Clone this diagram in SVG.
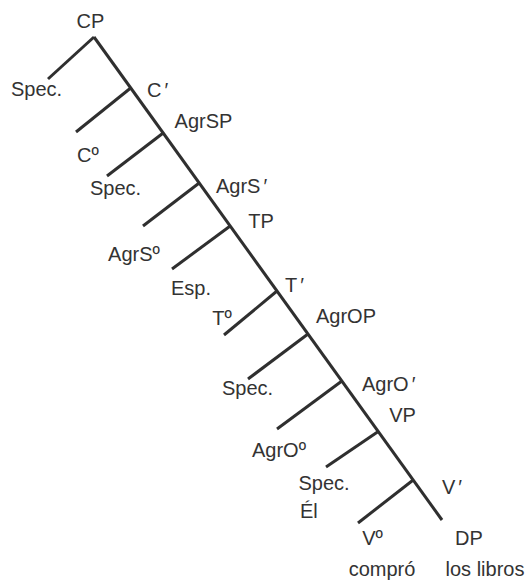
<svg xmlns="http://www.w3.org/2000/svg" width="530" height="582" viewBox="0 0 530 582">
<style>
.t{font-family:"Liberation Sans",Arial,sans-serif;font-size:20px;fill:#333}
.m{text-anchor:middle}
.e{stroke:#2f2f2f;stroke-width:3;fill:none}
</style>
<rect width="530" height="582" fill="#fff"/>
<g id="connectors">
<line class="e" x1="94" y1="37" x2="442" y2="520"/>
<line class="e" x1="94" y1="37" x2="48" y2="79"/>
<line class="e" x1="130.7" y1="88" x2="76" y2="132"/>
<line class="e" x1="163.2" y1="133" x2="107" y2="176"/>
<line class="e" x1="199.2" y1="183" x2="143" y2="226"/>
<line class="e" x1="230.2" y1="226" x2="172" y2="269"/>
<line class="e" x1="277" y1="291" x2="224" y2="335"/>
<line class="e" x1="308" y1="334" x2="248" y2="379"/>
<line class="e" x1="341.9" y1="381" x2="277" y2="429"/>
<line class="e" x1="377.5" y1="432" x2="326" y2="467"/>
<line class="e" x1="413.2" y1="480" x2="358" y2="523"/>
</g>
<g id="CP"><text class="t m" x="90.5" y="28">CP</text></g>
<g id="Spec1"><text class="t m" x="36.5" y="96">Spec.</text></g>
<g id="Cbar"><text class="t" x="147" y="97">C<tspan dx="3">′</tspan></text></g>
<g id="AgrSP"><text class="t m" x="203.5" y="128">AgrSP</text></g>
<g id="C0"><text class="t" x="77" y="162">Cº</text></g>
<g id="Spec2"><text class="t m" x="115.5" y="195">Spec.</text></g>
<g id="AgrSbar"><text class="t" x="216" y="193">AgrS<tspan dx="3">′</tspan></text></g>
<g id="TP"><text class="t m" x="261" y="228">TP</text></g>
<g id="AgrS0"><text class="t m" x="134" y="261">AgrSº</text></g>
<g id="Esp"><text class="t m" x="191" y="295">Esp.</text></g>
<g id="Tbar"><text class="t" x="285" y="292">T<tspan dx="3">′</tspan></text></g>
<g id="T0"><text class="t m" x="222" y="325">Tº</text></g>
<g id="AgrOP"><text class="t m" x="346" y="323">AgrOP</text></g>
<g id="Spec3"><text class="t m" x="247.5" y="395">Spec.</text></g>
<g id="AgrObar"><text class="t" x="362" y="391">AgrO<tspan dx="3">′</tspan></text></g>
<g id="VP"><text class="t m" x="402.5" y="422">VP</text></g>
<g id="AgrO0"><text class="t m" x="279" y="457">AgrOº</text></g>
<g id="Spec4"><text class="t m" x="324" y="490">Spec.</text><text class="t" x="300" y="518">Él</text></g>
<g id="Vbar"><text class="t" x="442" y="494">V<tspan dx="3">′</tspan></text></g>
<g id="V0"><text class="t m" x="372.5" y="545">Vº</text><text class="t m" x="382" y="576">compró</text></g>
<g id="DP"><text class="t m" x="469" y="545">DP</text><text class="t m" x="485" y="576">los libros</text></g>
</svg>
